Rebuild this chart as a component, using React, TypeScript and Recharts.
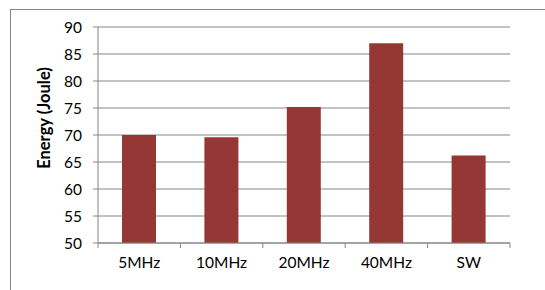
import { Bar, BarChart, CartesianGrid, XAxis, YAxis } from "recharts";

const categories = ["5MHz", "10MHz", "20MHz", "40MHz", "SW"];
const energy = [70.0, 69.6, 75.2, 87.0, 66.2];
const yTicks = [50, 55, 60, 65, 70, 75, 80, 85, 90];

const data = categories.map((name, i) => ({ name, energy: energy[i] }));

const W = 545;
const H = 290;
const M = { top: 27, right: 35, bottom: 17, left: 38 };
const Y_AXIS_W = 60;
const GREY = "#868686";
const FONT = "Lato, 'Open Sans', sans-serif";

// excel-style category ticks: marks sit on the band edges, label in the middle
function CategoryTick(props: any) {
    const { x, y, payload, index } = props;
    const band = (W - M.left - Y_AXIS_W - M.right) / categories.length;
    const left = x - band / 2;
    return (
        <g>
            <line x1={left} x2={left} y1={y - 8} y2={y - 3} stroke={GREY} />
            {index === categories.length - 1 ? (
                <line x1={x + band / 2} x2={x + band / 2} y1={y - 8} y2={y - 3} stroke={GREY} />
            ) : null}
            <text x={x} y={y + 17} textAnchor="middle" fill="#000" fontSize={15.5} fontFamily={FONT}>
                {payload.value}
            </text>
        </g>
    );
}

function AxisTitle() {
    return (
        <text
            x={44}
            y={118}
            transform="rotate(-90, 44, 118)"
            textAnchor="middle"
            dominantBaseline="central"
            fontWeight="bold"
            fontSize={16.5}
            fill="#000"
            fontFamily={FONT}
        >
            Energy (Joule)
        </text>
    );
}

export default function App() {
    return (
        <div style={{ position: "absolute", left: 0, top: 0, width: W, height: H, overflow: "hidden", background: "#fff" }}>
            <div
                style={{
                    position: "absolute",
                    left: 10,
                    top: 9,
                    width: 620,
                    height: 320,
                    border: `1px solid ${GREY}`,
                    boxSizing: "border-box",
                }}
            />
            <div style={{ position: "absolute", left: 0, top: 0 }}>
                <BarChart width={W} height={H} data={data} margin={M} barCategoryGap={0}>
                    <CartesianGrid horizontal vertical={false} stroke={GREY} strokeDasharray="" />
                    <XAxis
                        dataKey="name"
                        axisLine={{ stroke: GREY }}
                        tickLine={false}
                        tick={<CategoryTick />}
                        interval={0}
                    />
                    <YAxis
                        width={Y_AXIS_W}
                        domain={[50, 90]}
                        ticks={yTicks}
                        allowDataOverflow
                        axisLine={{ stroke: GREY }}
                        tickLine={{ stroke: GREY }}
                        tickSize={5}
                        tickMargin={11}
                        tick={{ fill: "#000", fontSize: 15.5, fontFamily: FONT }}
                        label={<AxisTitle />}
                    />
                    <Bar dataKey="energy" fill="#953735" barSize={34} isAnimationActive={false} />
                </BarChart>
            </div>
        </div>
    );
}
